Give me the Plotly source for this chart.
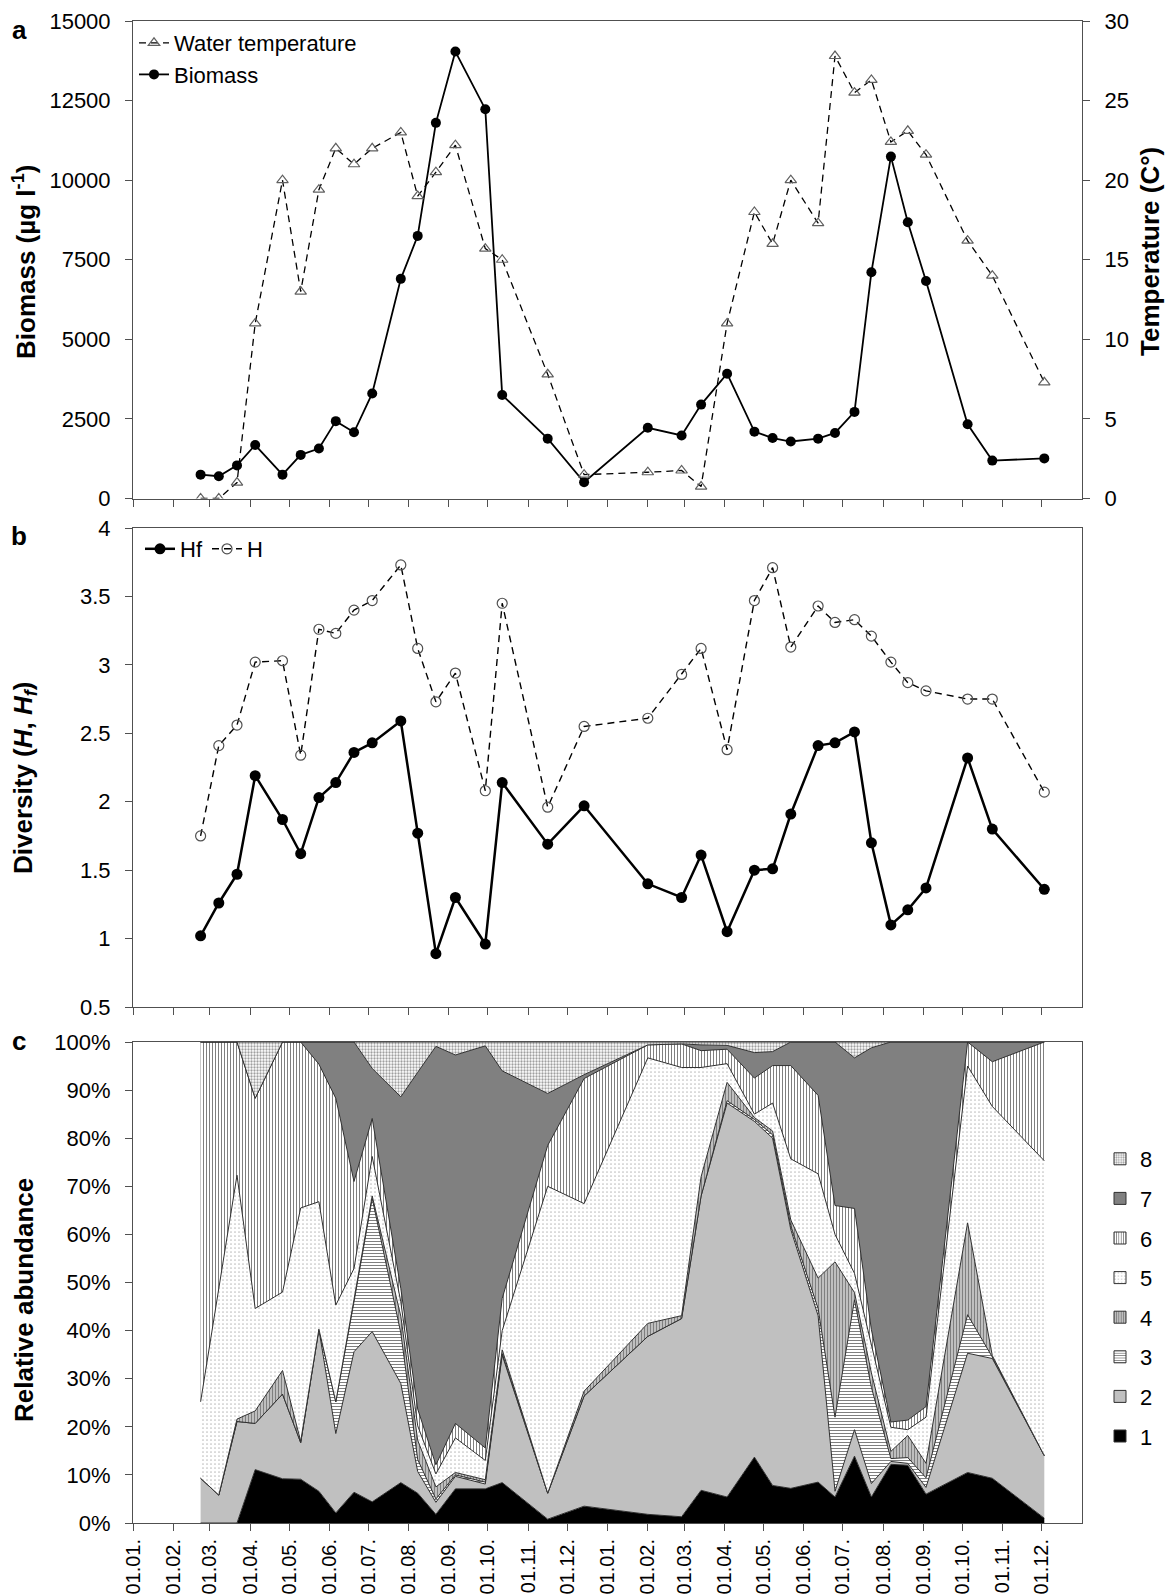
import plotly.graph_objects as go

# ---------------- data ----------------
dates = ["2009-02-22", "2009-03-08", "2009-03-22", "2009-04-05", "2009-04-26", "2009-05-10",
         "2009-05-24", "2009-06-06", "2009-06-20", "2009-07-04", "2009-07-26", "2009-08-08",
         "2009-08-22", "2009-09-06", "2009-09-29", "2009-10-12", "2009-11-16", "2009-12-14",
         "2010-02-01", "2010-02-27", "2010-03-14", "2010-04-03", "2010-04-24", "2010-05-08",
         "2010-05-22", "2010-06-12", "2010-06-25", "2010-07-10", "2010-07-23", "2010-08-07",
         "2010-08-20", "2010-09-03", "2010-10-05", "2010-10-24", "2010-12-03"]

biomass = [750, 700, 1040, 1680, 750, 1370, 1570, 2430, 2080, 3300, 6900, 8250, 11800, 14040,
           12230, 3250, 1880, 510, 2220, 1980, 2950, 3920, 2100, 1900, 1790, 1880, 2060, 2720,
           7110, 10740, 8680, 6830, 2330, 1190, 1260]

temperature = [0, 0, 1.0, 11.0, 20.0, 13.0, 19.4, 22.0, 21.0, 22.0, 23.0, 19.0, 20.5, 22.2,
               15.7, 15.0, 7.8, 1.5, 1.65, 1.76, 0.75, 11.0, 18.0, 16.0, 20.0, 17.3, 27.8, 25.5,
               26.3, 22.4, 23.1, 21.6, 16.2, 14.0, 7.3]

H = [1.75, 2.41, 2.56, 3.02, 3.03, 2.34, 3.26, 3.23, 3.40, 3.47, 3.73, 3.12, 2.73, 2.94, 2.08,
     3.45, 1.96, 2.55, 2.61, 2.93, 3.12, 2.38, 3.47, 3.71, 3.13, 3.43, 3.31, 3.33, 3.21, 3.02,
     2.87, 2.81, 2.75, 2.75, 2.07]

Hf = [1.02, 1.26, 1.47, 2.19, 1.87, 1.62, 2.03, 2.14, 2.36, 2.43, 2.59, 1.77, 0.89, 1.30, 0.96,
      2.14, 1.69, 1.97, 1.40, 1.30, 1.61, 1.05, 1.50, 1.51, 1.91, 2.41, 2.43, 2.51, 1.70, 1.10,
      1.21, 1.37, 2.32, 1.80, 1.36]

# relative abundance (%) of groups 1..8
g1 = [0, 0, 0, 11.1, 9.2, 9.1, 6.6, 2.1, 6.4, 4.4, 8.4, 6.2, 1.8, 7.1, 7.1, 8.4, 0.8, 3.5,
      1.8, 1.3, 6.8, 5.4, 13.7, 7.8, 7.2, 8.5, 5.4, 13.9, 5.4, 12.2, 12.0, 6.0, 10.5, 9.3, 1.0]
g2 = [9.3, 5.8, 21.1, 9.6, 17.6, 7.6, 33.7, 16.5, 29.2, 35.4, 20.6, 4.5, 2.5, 2.6, 1.0, 26.5, 5.4, 22.9,
      37.0, 41.2, 61.2, 81.9, 69.8, 72.2, 53.8, 34.6, 1.2, 5.5, 2.8, 0.6, 0.4, 1.4, 24.8, 24.9, 13.0]
g3 = [0, 0, 0, 0, 0, 0, 0, 6.6, 10.4, 27.7, 10.5, 2.5, 0.7, 0.3, 0.4, 0.3, 0, 0,
      0, 0, 0, 0.5, 0.4, 0.7, 0.8, 1.5, 15.4, 27.0, 20.0, 0.6, 1.2, 2.0, 8.0, 0.3, 0]
g4 = [0, 0, 0.5, 2.6, 4.9, 0.3, 0, 0, 0.5, 0.5, 3.5, 4.0, 2.5, 0.5, 0.5, 0.8, 0, 1.0,
      2.7, 0.6, 4.0, 3.8, 0.4, 0.8, 1.2, 6.3, 32.3, 1.5, 3.0, 1.5, 4.6, 3.0, 19.1, 0.3, 0]
g5 = [15.9, 43.2, 50.7, 21.3, 16.3, 48.5, 26.5, 20.1, 6.4, 8.2, 3.0, 3.0, 2.7, 7.2, 4.0, 4.0, 63.8, 39.0,
      55.2, 51.6, 22.7, 3.9, 0.7, 5.8, 12.7, 21.7, 5.7, 4.0, 6.0, 5.0, 1.2, 9.6, 32.6, 51.8, 61.3]
g6 = [74.8, 51.0, 27.7, 43.7, 52.0, 34.5, 28.6, 43.0, 18.1, 7.9, 2.8, 3.5, 1.9, 3.0, 2.6, 6.7, 8.5, 26.0,
      2.7, 4.9, 3.5, 3.0, 7.5, 7.8, 19.4, 16.3, 6.0, 13.5, 3.0, 1.1, 2.0, 2.2, 5.0, 9.3, 24.7]
g7 = [0, 0, 0, 0, 0, 0, 4.6, 11.7, 29.0, 10.4, 39.8, 70.0, 87.0, 76.6, 83.6, 47.3, 10.8, 0.8,
      0, 0, 1.2, 0.8, 5.3, 2.9, 4.9, 11.1, 34.0, 31.3, 58.6, 79.0, 78.6, 75.8, 0, 4.1, 0]
g8 = [0, 0, 0, 11.7, 0, 0, 0, 0, 0, 5.5, 11.4, 6.3, 0.9, 2.7, 0.8, 6.0, 10.7, 6.8,
      0.6, 0.4, 0.6, 0.7, 2.2, 2.0, 0, 0, 0, 3.3, 1.2, 0, 0, 0, 0, 0, 0]

group_names = ["1", "2", "3", "4", "5", "6", "7", "8"]
tick_months = ["01", "02", "03", "04", "05", "06", "07", "08", "09", "10", "11", "12"]
tick_years = ["2009", "2010"]
tickvals = [f"{y}-{m}-01" for y in tick_years for m in tick_months]
ticktext = [f"01.{m}." for y in tick_years for m in tick_months]

# ---------------- geometry ----------------
W, Hh = 1168, 1596
ML, MR, MT, MB = 133, 86, 21, 73
PW, PH = W - ML - MR, Hh - MT - MB


def py(p):
    return (Hh - MB - p) / PH


def px(p):
    return (p - ML) / PW


FONT = "Liberation Sans, Arial, sans-serif"
AX = "#505050"

fig = go.Figure()

# ---------- panel a ----------
fig.add_trace(go.Scatter(
    x=dates, y=temperature, name="Water temperature", xaxis="x", yaxis="y2",
    mode="lines+markers", line=dict(color="black", width=1.3, dash="7px,5px"),
    marker=dict(symbol="triangle-up-open", size=10, color="#606060", line=dict(width=1.2)),
    legend="legend"))
fig.add_trace(go.Scatter(
    x=dates, y=biomass, name="Biomass", xaxis="x", yaxis="y",
    mode="lines+markers", line=dict(color="black", width=1.8),
    marker=dict(symbol="circle", size=10, color="black"), legend="legend"))

# ---------- panel b ----------
fig.add_trace(go.Scatter(
    x=dates, y=Hf, name="Hf", xaxis="x2", yaxis="y3",
    mode="lines+markers", line=dict(color="black", width=2.5),
    marker=dict(symbol="circle", size=11, color="black"), legend="legend2"))
fig.add_trace(go.Scatter(
    x=dates, y=H, name="H", xaxis="x2", yaxis="y3",
    mode="lines+markers", line=dict(color="black", width=1.4, dash="7px,5px"),
    marker=dict(symbol="circle-open", size=10, color="#505050", line=dict(width=1.2)),
    legend="legend2"))

# ---------- panel c ----------
groups = [g1, g2, g3, g4, g5, g6, g7, g8]
styles = [
    dict(color="black", pattern=None),
    dict(color="#c0c0c0", pattern=None),
    dict(color="white", pattern=dict(shape="-", fgcolor="black", bgcolor="white", size=3, solidity=0.34)),
    dict(color="white", pattern=dict(shape="|", fgcolor="black", bgcolor="white", size=3, solidity=0.67)),
    dict(color="white", pattern=dict(shape=".", fgcolor="#808080", bgcolor="white", size=4, solidity=0.15)),
    dict(color="white", pattern=dict(shape="|", fgcolor="black", bgcolor="white", size=3, solidity=0.34)),
    dict(color="#808080", pattern=None),
    dict(color="white", pattern=dict(shape=".", fgcolor="#404040", bgcolor="white", size=3, solidity=0.45)),
]
for name, vals, st in zip(group_names, groups, styles):
    kw = dict(x=dates, y=vals, name=name, xaxis="x3", yaxis="y4", mode="lines",
              stackgroup="c", line=dict(color="#303030", width=1), showlegend=False)
    if st["pattern"] is None:
        kw["fillcolor"] = st["color"]
    else:
        kw["fillcolor"] = "white"
        kw["fillpattern"] = st["pattern"]
    fig.add_trace(go.Scatter(**kw))

# legend keys for panel c (square swatches; the bars sit above the axis range, so only the key shows)
for name, st in reversed(list(zip(group_names, styles))):
    marker = dict(color=st["color"], line=dict(color="#303030", width=1))
    if st["pattern"] is not None:
        marker["pattern"] = st["pattern"]
    fig.add_trace(go.Bar(x=[dates[0]], y=[1], base=[500], name=name, xaxis="x3", yaxis="y4",
                         marker=marker, legend="legend3", legendgroup=name, showlegend=True,
                         hoverinfo="skip"))

# ---------------- layout ----------------
xcommon = dict(type="date", range=["2009-01-01", "2011-01-01"], tickvals=tickvals, ticktext=ticktext,
               ticks="outside", ticklen=7, tickcolor=AX, showline=True, linecolor=AX, linewidth=1,
               mirror=True, showgrid=False, zeroline=False, automargin=False)
ycommon = dict(ticks="outside", ticklen=7, tickcolor=AX, showline=True, linecolor=AX, linewidth=1,
               showgrid=False, zeroline=False, ticklabelstandoff=10, automargin=False,
               tickfont=dict(size=22, color="black", family=FONT))

dom_a = [py(498.5), 1.0]
dom_b = [py(1007), py(528)]
dom_c = [0.0, py(1042)]

fig.update_layout(
    width=W, height=Hh, margin=dict(l=ML, r=MR, t=MT, b=MB, autoexpand=False),
    paper_bgcolor="white", plot_bgcolor="white",
    font=dict(family=FONT, color="black", size=22),
    barmode="overlay",
    xaxis=dict(**xcommon, domain=[0, 1], anchor="y", showticklabels=False),
    yaxis=dict(**ycommon, domain=dom_a, anchor="x", range=[0, 15000], dtick=2500, tickformat="d",
               mirror=False),
    yaxis2=dict(**ycommon, overlaying="y", side="right", anchor="x", range=[0, 30], dtick=5),
    xaxis2=dict(**xcommon, domain=[0, 1], anchor="y3", showticklabels=False),
    yaxis3=dict(**ycommon, domain=dom_b, anchor="x2", range=[0.5, 4], dtick=0.5, mirror=True),
    xaxis3=dict(**xcommon, domain=[0, 1], anchor="y4", showticklabels=True, tickangle=-90,
                ticklabelstandoff=0, tickfont=dict(size=20, color="black", family=FONT)),
    yaxis4=dict(**ycommon, domain=dom_c, anchor="x3", range=[0, 100], dtick=10, ticksuffix="%",
                mirror=True),
    legend=dict(x=px(134), y=py(22), xanchor="left", yanchor="top", bgcolor="rgba(0,0,0,0)",
                font=dict(size=22), itemwidth=30, traceorder="normal"),
    legend2=dict(x=px(140), y=py(528), xanchor="left", yanchor="top", orientation="h",
                 bgcolor="rgba(0,0,0,0)", font=dict(size=22), itemwidth=30, traceorder="normal",
                 entrywidth=22, entrywidthmode="pixels"),
    legend3=dict(x=px(1100), y=py(1138), xanchor="left", yanchor="top", bgcolor="rgba(0,0,0,0)",
                 font=dict(size=22), itemwidth=30, traceorder="grouped", tracegroupgap=8),
    showlegend=True,
)

ann = []
for letter, yy in [("a", 30), ("b", 536), ("c", 1041)]:
    ann.append(dict(text=f"<b>{letter}</b>", x=px(19), y=py(yy), xref="paper", yref="paper",
                    xanchor="center", yanchor="middle", showarrow=False, font=dict(size=26)))
titles = [
    ("<b>Biomass (µg l<sup>-1</sup>)</b>", 24, 262),
    ("<b>Diversity (<i>H</i>, <i>H<sub>f</sub></i>)</b>", 24, 778),
    ("<b>Relative abundance</b>", 24, 1300),
    ("<b>Temperature (C°)</b>", 1150, 252),
]
for t, xx, yy in titles:
    ann.append(dict(text=t, x=px(xx), y=py(yy), xref="paper", yref="paper", textangle=-90,
                    xanchor="center", yanchor="middle", showarrow=False, font=dict(size=26)))
fig.update_layout(annotations=ann)

fig.write_html("out.html", config={"displayModeBar": False},
               post_script="document.body.style.margin='0px';")
